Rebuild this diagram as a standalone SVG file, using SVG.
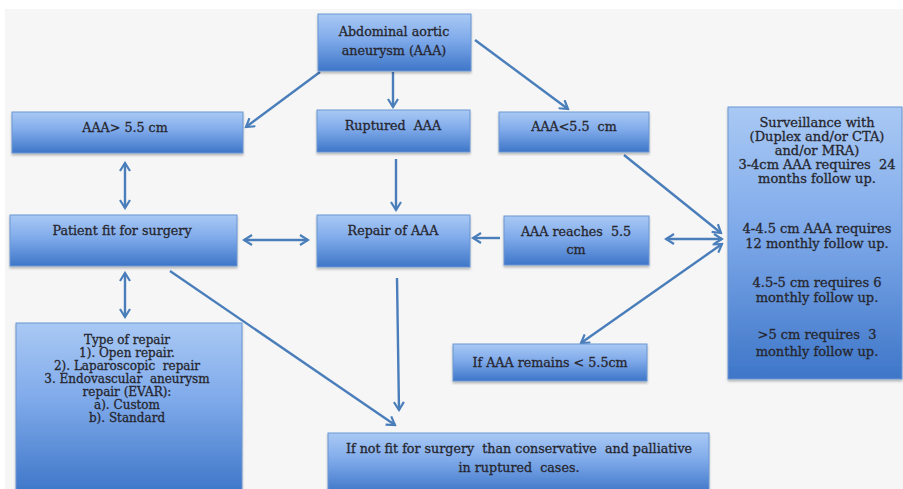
<svg xmlns="http://www.w3.org/2000/svg" width="903" height="489" viewBox="0 0 903 489">
<defs>
<linearGradient id="g" x1="0" y1="0" x2="0" y2="1">
<stop offset="0" stop-color="#a9c9f4"/>
<stop offset="0.45" stop-color="#7faaea"/>
<stop offset="1" stop-color="#3e76c8"/>
</linearGradient>
<filter id="sh" x="-5%" y="-5%" width="110%" height="115%">
<feDropShadow dx="0" dy="2" stdDeviation="1.2" flood-color="#000" flood-opacity="0.25"/>
</filter>
<marker id="ah" viewBox="0 0 12 12" refX="10" refY="6" markerWidth="12" markerHeight="12" markerUnits="userSpaceOnUse" orient="auto-start-reverse">
<path d="M2,1 L10,6 L2,11" fill="none" stroke="#4a7ebb" stroke-width="2.2"/>
</marker>
</defs>
<style>
.box{fill:url(#g);stroke:#6a95d2;stroke-width:1;filter:url(#sh)}
.t{font-family:"DejaVu Serif","Liberation Serif",serif;font-size:12.7px;fill:#26262e;text-anchor:middle;stroke:#26262e;stroke-width:0.3;white-space:pre}
.s{font-size:13px}
.r{font-size:12px}
.c{fill:none;stroke:#4a7ebb;stroke-width:2.4}
.a{marker-end:url(#ah)}
.d{marker-start:url(#ah);marker-end:url(#ah)}
</style>
<rect x="0" y="0" width="903" height="489" fill="#ffffff"/>
<rect x="5" y="9" width="898" height="480" fill="#f6f6f6"/>

<g id="connectors">
<line class="c a" x1="320" y1="72" x2="246" y2="127"/>
<line class="c a" x1="393" y1="72" x2="393" y2="107"/>
<line class="c a" x1="475" y1="40" x2="568" y2="109"/>
<line class="c d" x1="125" y1="163" x2="125" y2="208"/>
<line class="c d" x1="244" y1="240" x2="308" y2="240"/>
<line class="c a" x1="396" y1="159" x2="396" y2="210"/>
<line class="c a" x1="500" y1="238" x2="473" y2="238"/>
<line class="c a" x1="624" y1="155" x2="721" y2="233"/>
<line class="c d" x1="666" y1="239" x2="722" y2="239"/>
<line class="c d" x1="722" y1="244" x2="581" y2="343"/>
<line class="c d" x1="125" y1="273" x2="125" y2="317"/>
<line class="c a" x1="170" y1="271" x2="395" y2="425"/>
<line class="c a" x1="397" y1="278" x2="399" y2="410"/>
</g>

<g id="n_aaa">
<rect class="box" x="318" y="14" width="153" height="57"/>
<text class="t" x="394" y="36">Abdominal aortic</text>
<text class="t" x="394" y="55">aneurysm (AAA)</text>
</g>
<g id="n_gt55">
<rect class="box" x="12" y="112" width="231" height="41"/>
<text class="t" x="125" y="132">AAA&gt; 5.5 cm</text>
</g>
<g id="n_ruptured">
<rect class="box" x="317" y="110" width="153" height="42"/>
<text class="t" x="393" y="130">Ruptured  AAA</text>
</g>
<g id="n_lt55">
<rect class="box" x="499" y="112" width="150" height="40"/>
<text class="t" x="574" y="131">AAA&lt;5.5  cm</text>
</g>
<g id="n_fit">
<rect class="box" x="10" y="215" width="227" height="51"/>
<text class="t" x="122" y="235">Patient fit for surgery</text>
</g>
<g id="n_repair">
<rect class="box" x="317" y="215" width="153" height="52"/>
<text class="t" x="393" y="235">Repair of AAA</text>
</g>
<g id="n_reaches">
<rect class="box" x="504" y="216" width="145" height="49"/>
<text class="t" x="576" y="236">AAA reaches  5.5</text>
<text class="t" x="576" y="254">cm</text>
</g>
<g id="n_surveillance">
<rect class="box" x="728" y="107" width="174" height="272"/>
<text class="t s" x="817" y="127">Surveillance with</text>
<text class="t s" x="817" y="141">(Duplex and/or CTA)</text>
<text class="t s" x="817" y="155">and/or MRA)</text>
<text class="t s" x="817" y="169">3-4cm AAA requires  24</text>
<text class="t s" x="817" y="183">months follow up.</text>
<text class="t s" x="817" y="233">4-4.5 cm AAA requires</text>
<text class="t s" x="817" y="248">12 monthly follow up.</text>
<text class="t s" x="817" y="287">4.5-5 cm requires 6</text>
<text class="t s" x="817" y="302">monthly follow up.</text>
<text class="t s" x="817" y="339">&gt;5 cm requires  3</text>
<text class="t s" x="817" y="356">monthly follow up.</text>
</g>
<g id="n_remains">
<rect class="box" x="453" y="344" width="194" height="37"/>
<text class="t" x="550" y="367">If AAA remains &lt; 5.5cm</text>
</g>
<g id="n_type">
<rect class="box" x="16" y="323" width="226" height="170"/>
<text class="t r" x="127" y="344">Type of repair</text>
<text class="t r" x="127" y="357">1). Open repair.</text>
<text class="t r" x="127" y="370">2). Laparoscopic  repair</text>
<text class="t r" x="127" y="383">3. Endovascular  aneurysm</text>
<text class="t r" x="127" y="396">repair (EVAR):</text>
<text class="t r" x="127" y="409">a). Custom</text>
<text class="t r" x="127" y="422">b). Standard</text>
</g>
<g id="n_notfit">
<rect class="box" x="328" y="433" width="381" height="60"/>
<text class="t" x="519" y="453">If not fit for surgery  than conservative  and palliative</text>
<text class="t" x="519" y="472">in ruptured  cases.</text>
</g>
</svg>
